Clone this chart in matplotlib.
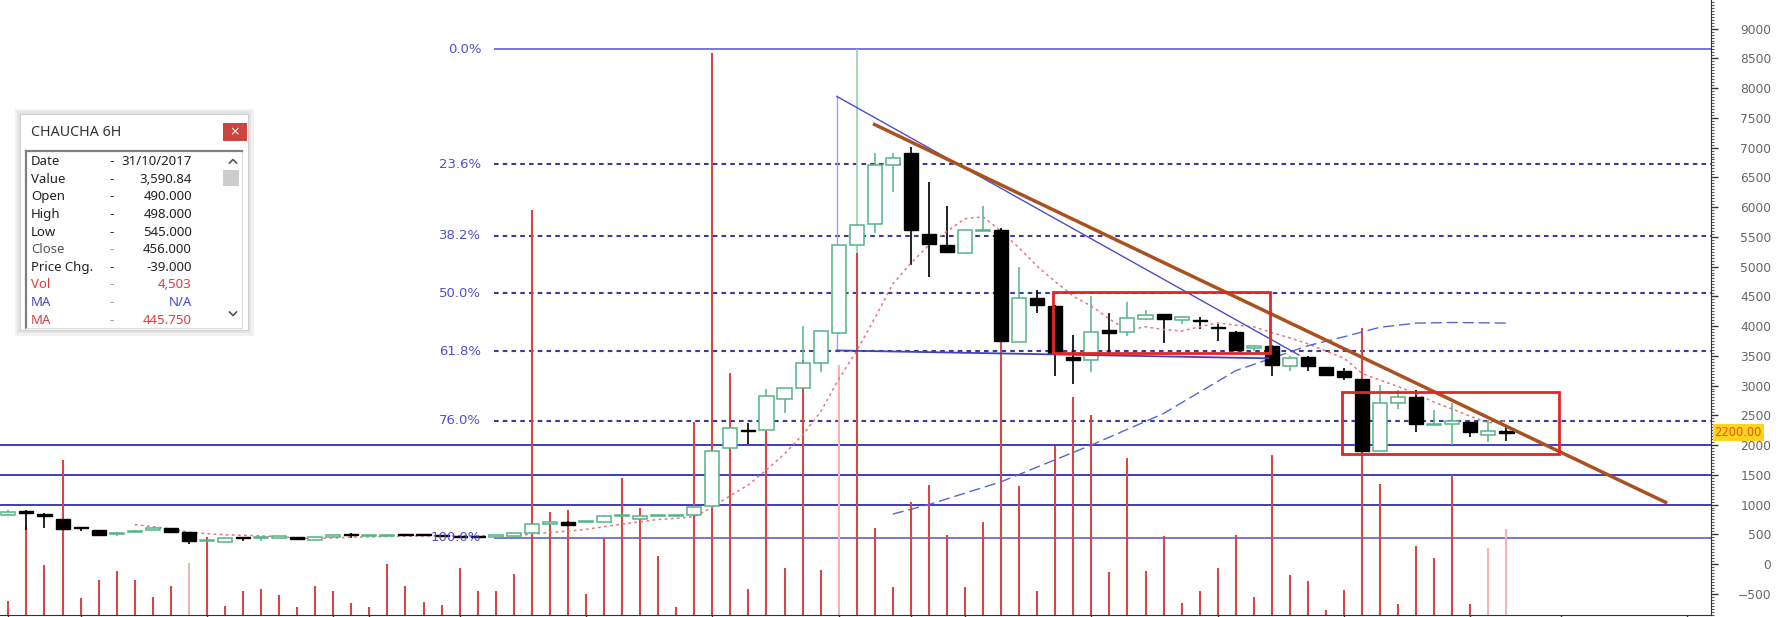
import matplotlib
matplotlib.use("Agg")
import matplotlib.pyplot as plt
import numpy as np
import pandas as pd
from matplotlib.patches import Rectangle
from matplotlib.ticker import MultipleLocator
from matplotlib.transforms import blended_transform_factory

# ---------------- data ----------------
opens = [830, 890, 840, 757, 610, 576, 510, 540, 575, 604,
         531, 385, 370, 440, 430, 445, 458, 405, 450, 495,
         470, 475, 485, 485, 470, 465, 460, 450, 470, 522,
         674, 713, 705, 713, 800, 760, 805, 810, 820, 975,
         1945, 2250, 2247, 2770, 2967, 3371, 3880, 5363, 5711, 6700,
         6906, 5553, 5367, 5227, 5600, 5609, 3736, 4468, 4338, 3483,
         3427, 3933, 3905, 4113, 4197, 4102, 4100, 3975, 3905, 3624,
         3664, 3335, 3482, 3306, 3250, 3113, 1903, 2699, 2812, 2340,
         2346, 2386, 2176, 2216]
highs = [900, 900, 850, 765, 625, 580, 530, 570, 620, 610,
         540, 400, 450, 460, 450, 460, 460, 455, 485, 520,
         490, 495, 490, 500, 475, 470, 465, 485, 525, 680,
         720, 720, 720, 830, 810, 820, 820, 825, 970, 1910,
         2300, 2375, 2940, 2960, 4000, 3916, 5370, 5710, 6906, 6906,
         7010, 6420, 6014, 5620, 6014, 5650, 5000, 4610, 4350, 3850,
         4500, 4214, 4400, 4270, 4210, 4170, 4147, 4034, 3920, 3680,
         3680, 3500, 3490, 3310, 3295, 3113, 3011, 2926, 2926, 2585,
         2699, 2390, 2415, 2300]
lows = [815, 575, 605, 590, 548, 490, 463, 530, 570, 520,
        330, 380, 365, 390, 380, 440, 424, 400, 445, 435,
        465, 470, 478, 470, 465, 455, 450, 445, 465, 515,
        670, 645, 700, 705, 795, 755, 800, 805, 815, 960,
        1940, 2010, 2240, 2545, 2960, 3230, 3860, 5360, 5570, 6260,
        5026, 4833, 5230, 5220, 5590, 3750, 3730, 4214, 3153, 3033,
        3230, 3540, 3840, 4100, 3710, 4030, 3948, 3750, 3590, 3580,
        3153, 3238, 3238, 3181, 3096, 1900, 1900, 2613, 2216, 2330,
        2000, 2130, 2045, 2074]
closes = [880, 850, 810, 593, 600, 491, 525, 555, 600, 540,
          380, 395, 445, 430, 440, 455, 424, 450, 480, 490,
          480, 485, 480, 480, 465, 460, 455, 480, 520, 674,
          713, 651, 715, 803, 805, 815, 815, 820, 960, 1900,
          2290, 2240, 2826, 2955, 3371, 3916, 5363, 5700, 6709, 6822,
          5615, 5384, 5238, 5609, 5620, 3753, 4468, 4355, 3540, 3430,
          3905, 3880, 4130, 4186, 4113, 4158, 4090, 3965, 3596, 3664,
          3352, 3465, 3323, 3181, 3136, 1903, 2699, 2812, 2346, 2358,
          2398, 2216, 2244, 2210]
volumes = [14, 89, 50, 155, 17, 35, 44, 35, 18, 29,
           52, 78, 9, 24, 26, 20, 8, 29, 24, 12,
           8, 51, 29, 13, 10, 47, 24, 24, 41, 405,
           103, 105, 21, 77, 137, 107, 59, 8, 193, 562,
           242, 26, 215, 47, 255, 45, 250, 362, 87, 28,
           113, 130, 80, 28, 93, 290, 129, 24, 169, 218,
           200, 43, 157, 44, 79, 12, 24, 47, 80, 18,
           160, 40, 34, 5, 25, 287, 131, 11, 69, 57,
           140, 11, 67, 86]
pale_volume = [10, 46, 82, 83]

# long moving average (blue dashed), read at candle positions
ma_long_idx = [49, 51, 55, 60, 64, 68, 72, 74, 76, 78, 80, 83]
ma_long_val = [840, 1000, 1383, 2000, 2530, 3250, 3670, 3820, 3980, 4050, 4060, 4050]

# Fibonacci tool
fib_high, fib_low = 8656, 440
fib_pcts = [0.0, 23.6, 38.2, 50.0, 61.8, 76.0, 100.0]
fib_start = 26.9

# horizontal support lines
support_levels = [2000, 1500, 1000]

# drawn lines in candle-index / price units
trend_brown = ([47.9, 91.9], [7401, 1025])
fib_diag = ([45.9, 71.5], [7860, 3513])
fib_vert = ([45.9, 45.9], [7860, 3590])
fib_horiz = ([45.9, 69.8], [3590, 3458])
boxes = [(57.9, 69.9, 3547, 4572), (73.9, 85.9, 1844, 2896)]
cursor_idx = 47

x_ticks = [0, 4, 11, 18, 20, 25, 32, 39, 46, 50, 53, 60, 67, 74, 81, 86, 93]
y_ticks = list(range(-500, 9001, 500))
last_price_label = "2200.00"
last_price = 2210

info_labels = ["Date", "Value", "Open", "High", "Low", "Close", "Price Chg.", "Vol", "MA", "MA"]
info_values = ["31/10/2017", "3,590.84", "490.000", "498.000", "545.000",
               "456.000", "-39.000", "4,503", "N/A", "445.750"]

# ---------------- figure ----------------
W, H, DPI = 1779, 617, 100
fig = plt.figure(figsize=(W / DPI, H / DPI), dpi=DPI)
fig.patch.set_facecolor("white")

AX_RIGHT, AX_BOTTOM = 1711, 615
ax = fig.add_axes([0, (H - AX_BOTTOM) / H, AX_RIGHT / W, AX_BOTTOM / H])
ax.set_xlim(-0.465, 94.33)
ax.set_ylim(-857, 9481)
ax.set_facecolor("white")

idx = np.arange(len(closes))
o = np.array(opens, float); c = np.array(closes, float)
hi = np.array(highs, float); lo = np.array(lows, float)

# cursor line (behind the volume)
ax.vlines(cursor_idx, ax.get_ylim()[0], fib_high, colors="#9ad8b2", lw=1.3, zorder=1.8)

# volume (drawn in axes-height fraction)
VOL_SCALE = 615.0
vt = ax.get_xaxis_transform()
vcols = ["#f2b4b4" if i in pale_volume else "#d64848" for i in idx]
ax.vlines(idx, 0, np.array(volumes) / VOL_SCALE, transform=vt, colors=vcols, lw=1.5, zorder=2)

# support lines
for lv in support_levels:
    ax.axhline(lv, color="#2e2eb4", lw=1.3, zorder=1.5)

# fibonacci
xmax = ax.get_xlim()[1]
for p in fib_pcts:
    lvl = fib_high - p / 100.0 * (fib_high - fib_low)
    if p in (0.0, 100.0):
        ax.hlines(lvl, fib_start, xmax, colors="#5252d2", lw=1.1, zorder=1.5)
    else:
        ax.hlines(lvl, fib_start, xmax, colors="#3a3a9c", lw=1.5,
                  linestyles=(0, (2.2, 2.0)), zorder=1.5)
    ax.text(26.2, lvl, f"{p:.1f}%", ha="right", va="center", color="#5050d0",
            fontsize=9.5, zorder=6)

# fib tool lines
ax.plot(*fib_vert, color="#a0a0e8", lw=1.0, zorder=2.5)
ax.plot(*fib_diag, color="#4d4dc8", lw=1.0, zorder=5)
ax.plot(*fib_horiz, color="#4040c0", lw=1.3, zorder=5)

# candles
green = "#55b487"
up = c >= o
ax.vlines(idx[up], lo[up], hi[up], colors=green, lw=1.1, zorder=3)
ax.vlines(idx[~up], lo[~up], hi[~up], colors="#111111", lw=1.3, zorder=3)
body_lo = np.minimum(o, c)
body_h = np.maximum(np.abs(c - o), 18)
ax.bar(idx[up], body_h[up], bottom=body_lo[up], width=0.78, facecolor="white",
       edgecolor=green, lw=1.1, zorder=4)
ax.bar(idx[~up], body_h[~up], bottom=body_lo[~up], width=0.78, facecolor="#000000",
       edgecolor="#000000", lw=1.0, zorder=4)

# moving averages
ma8 = pd.Series(closes).rolling(8).mean()
ax.plot(idx, ma8, color="#e27878", lw=1.1, linestyle=(0, (1.8, 2.2)), zorder=3.5)
ax.plot(ma_long_idx, ma_long_val, color="#5566d4", lw=1.0, linestyle=(0, (8, 3.5)), zorder=3.5)

# trend line and boxes
ax.plot(*trend_brown, color="#a9521f", lw=2.5, zorder=6, solid_capstyle="butt")
for x0, x1, y0, y1 in boxes:
    ax.add_patch(Rectangle((x0, y0), x1 - x0, y1 - y0, fill=False, ec="#e02626", lw=2.0, zorder=6))

# axes styling
for s in ("top", "left"):
    ax.spines[s].set_visible(False)
ax.spines["right"].set_color("#333333")
ax.spines["bottom"].set_color("#333333")
ax.yaxis.tick_right()
ax.set_yticks(y_ticks)
ax.yaxis.set_minor_locator(MultipleLocator(50))
ax.tick_params(axis="y", which="major", length=5, width=1, color="#333333",
               labelsize=8.8, labelcolor="#666666", pad=38.5)
ax.tick_params(axis="y", which="minor", length=2.2, width=0.8, color="#555555")
for lbl in ax.get_yticklabels():
    lbl.set_horizontalalignment("right")
ax.set_xticks(x_ticks)
ax.set_xticklabels([])
ax.tick_params(axis="x", length=2, width=1, color="#333333", direction="out")

tr = blended_transform_factory(ax.transAxes, ax.transData)
ax.text(1.002, last_price, last_price_label, transform=tr, ha="left", va="center",
        fontsize=8.3, color="#e05a00", clip_on=False, zorder=10,
        bbox=dict(boxstyle="square,pad=0.15", fc="#ffd21f", ec="none"))

# ---------------- info window ----------------
def px_axes(x0, y0, x1, y1, fc="white"):
    a = fig.add_axes([x0 / W, 1 - y1 / H, (x1 - x0) / W, (y1 - y0) / H])
    a.set_xlim(x0, x1); a.set_ylim(y1, y0)
    a.set_xticks([]); a.set_yticks([])
    a.set_facecolor(fc)
    for s in a.spines.values():
        s.set_visible(False)
    return a

px_axes(15, 109, 254, 336, fc="#f2f2f2")
px_axes(17, 111, 251, 333, fc="#e4e4e4")
win = px_axes(20, 114, 248, 330)
for s in win.spines.values():
    s.set_visible(True); s.set_color("#d0d0d0")
win.text(31, 132, "CHAUCHA 6H", ha="left", va="center", fontsize=10.3,
         color="#333333", family="Noto Sans")
win.add_patch(Rectangle((223, 123), 24, 18, fc="#c9453e", ec="none"))
win.text(235, 132, "×", ha="center", va="center", fontsize=9, color="white")

lst = px_axes(26, 151, 242, 328)
for s in ("top", "left"):
    lst.spines[s].set_visible(True); lst.spines[s].set_color("#808080"); lst.spines[s].set_linewidth(1.6)
for s in ("right", "bottom"):
    lst.spines[s].set_visible(True); lst.spines[s].set_color("#dddddd")
lab_cols = ["#222222"] * 5 + ["#555555", "#222222", "#e03c3c", "#4646cc", "#e03c3c"]
val_cols = ["#222222"] * 7 + ["#e03c3c", "#4646cc", "#e03c3c"]
dash_cols = ["#222222"] * 5 + ["#999999", "#222222", "#999999", "#999999", "#999999"]
for k, (lab, val) in enumerate(zip(info_labels, info_values)):
    yy = 161.7 + k * 17.6
    lst.text(31, yy, lab, ha="left", va="center", fontsize=9.5, color=lab_cols[k],
             family="Noto Sans", clip_on=True)
    lst.text(112, yy, "-", ha="center", va="center", fontsize=9.5, color=dash_cols[k],
             family="Noto Sans", clip_on=True)
    lst.text(192, yy, val, ha="right", va="center", fontsize=9.5, color=val_cols[k],
             family="Noto Sans", clip_on=True)
lst.add_patch(Rectangle((223, 170), 16, 16, fc="#cdcdcd", ec="none"))
lst.plot([229.5, 233, 236.5], [163, 159.5, 163], color="#555555", lw=1.2)
lst.plot([229.5, 233, 236.5], [312, 315.5, 312], color="#555555", lw=1.2)

fig.savefig("out.png", dpi=DPI, facecolor="white")
